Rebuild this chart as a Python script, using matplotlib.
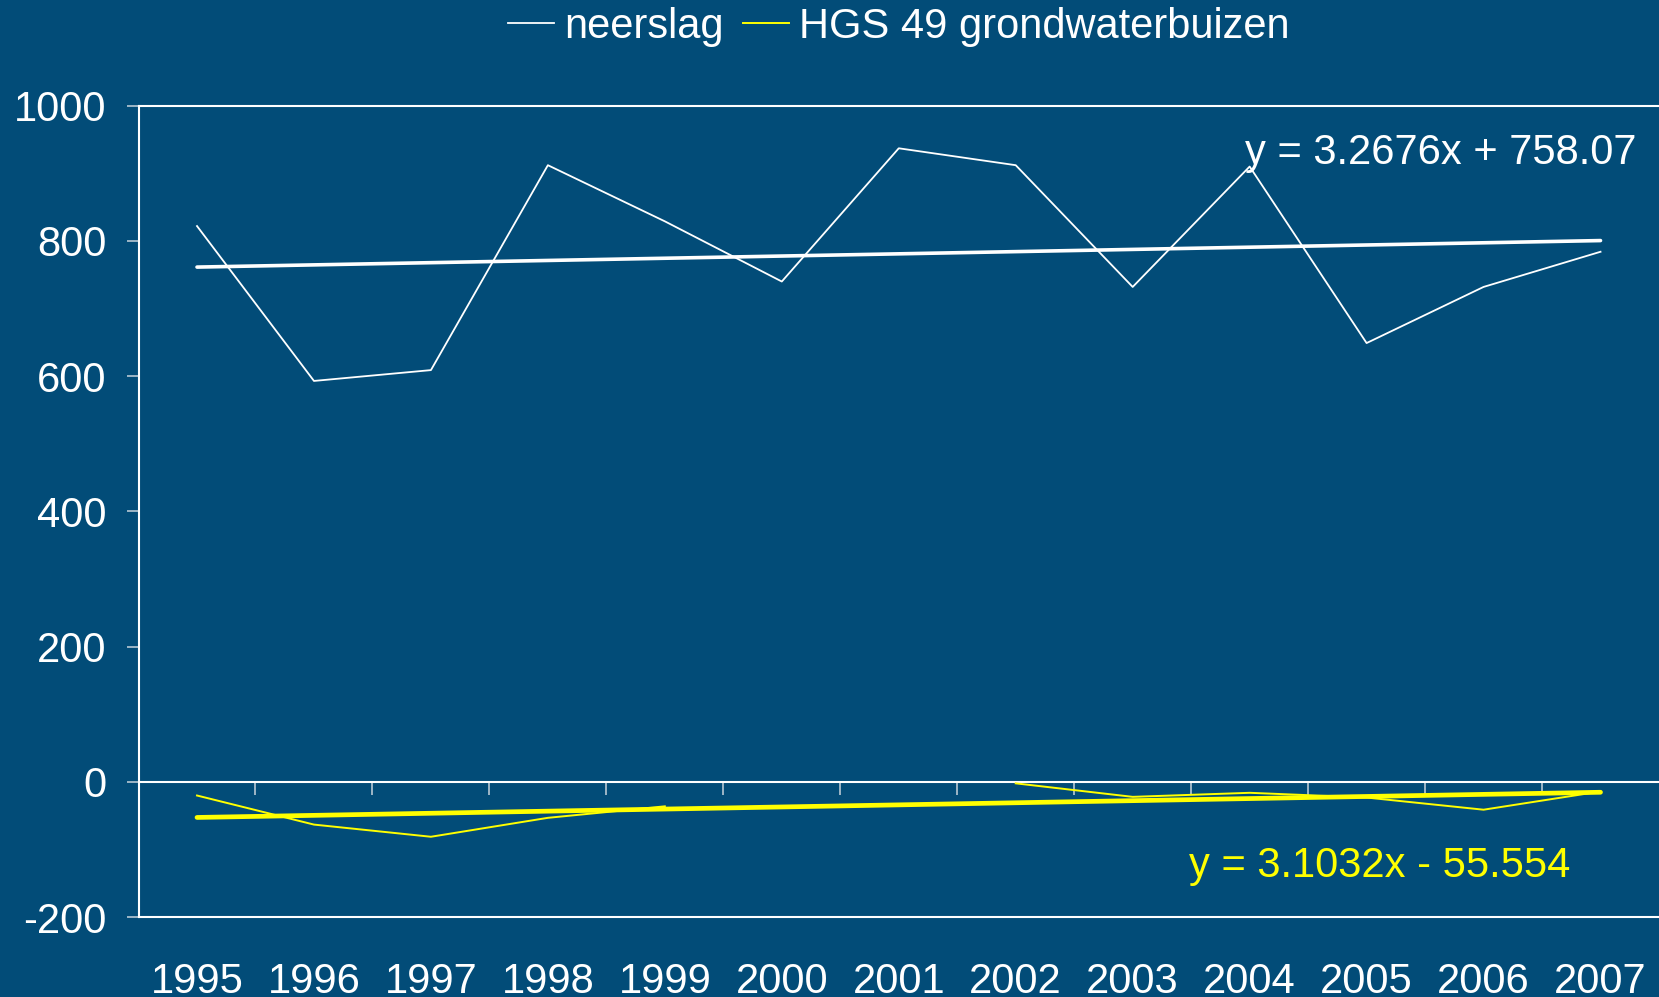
import numpy as np
import matplotlib
matplotlib.use('Agg')
import matplotlib.pyplot as plt

plt.rcParams['font.family'] = ['Liberation Sans', 'DejaVu Sans']
plt.rcParams['axes.unicode_minus'] = False

# data
years = ['1995', '1996', '1997', '1998', '1999', '2000', '2001',
         '2002', '2003', '2004', '2005', '2006', '2007']
neerslag = [822, 593, 609, 912, 829, 740, 937, 912, 732, 910, 649, 732, 784]
hgs = [-20, -63, -81, -53, -36, np.nan, np.nan, -2, -22, -16, -23, -41, -14]

# trendline coefficients as printed on the chart (x = 1..13)
trend_neerslag = (3.2676, 758.07)
trend_hgs = (3.1032, -55.554)
label_neerslag = 'y = 3.2676x + 758.07'
label_hgs = 'y = 3.1032x - 55.554'

bg = '#024c78'
tick_col = '#b8c8d4'
fs = 30

fig = plt.figure(figsize=(16.59, 9.97), dpi=100, facecolor=bg)
ax = fig.add_axes([0.0835, 0.08, 0.9165, 0.814], facecolor=bg)

x = np.arange(len(years))
ax.plot(x, neerslag, color='white', lw=1.3, label='neerslag')
ax.plot(x, hgs, color='#ffff00', lw=1.4, label='HGS 49 grondwaterbuizen')

xs = x + 1
ax.plot(x, trend_neerslag[0] * xs + trend_neerslag[1], color='white', lw=2.6,
        solid_capstyle='round')
ax.plot(x, trend_hgs[0] * xs + trend_hgs[1], color='#ffff00', lw=3.4,
        solid_capstyle='round')

ax.text(8.96, 930, label_neerslag, color='white', fontsize=fs,
        ha='left', va='center')
ax.text(8.48, -124, label_hgs, color='#ffff00', fontsize=fs,
        ha='left', va='center')

ax.set_xlim(-0.5, 12.5)
ax.set_ylim(-200, 1000)
ax.set_yticks(range(-200, 1001, 200))
ax.set_xticks(x)
ax.set_xticklabels(years)

for s in ['left', 'top', 'bottom']:
    ax.spines[s].set_color('white')
    ax.spines[s].set_linewidth(1.5)
ax.spines['right'].set_visible(False)

ax.tick_params(axis='y', colors=tick_col, labelcolor='white', labelsize=fs,
               length=9, width=1.2, pad=14, direction='out')
ax.tick_params(axis='x', length=0, labelcolor='white', labelsize=fs, pad=32)

# category axis at y = 0 with tick marks between categories
sec = ax.secondary_xaxis(200 / 1200)
sec.set_xticks(np.arange(0.5, 12, 1.0))
sec.set_xticklabels([])
sec.tick_params(axis='x', length=9, width=1.2, colors=tick_col, direction='out')
sec.spines['bottom'].set_color('white')
sec.spines['bottom'].set_linewidth(1.5)

fig.legend(loc='center', bbox_to_anchor=(0.542, 0.973), ncol=2, frameon=False,
           fontsize=fs, labelcolor='white', handlelength=1.1,
           handletextpad=0.25, columnspacing=0.45, borderaxespad=0)

fig.savefig('out.png', dpi=100, facecolor=bg)
